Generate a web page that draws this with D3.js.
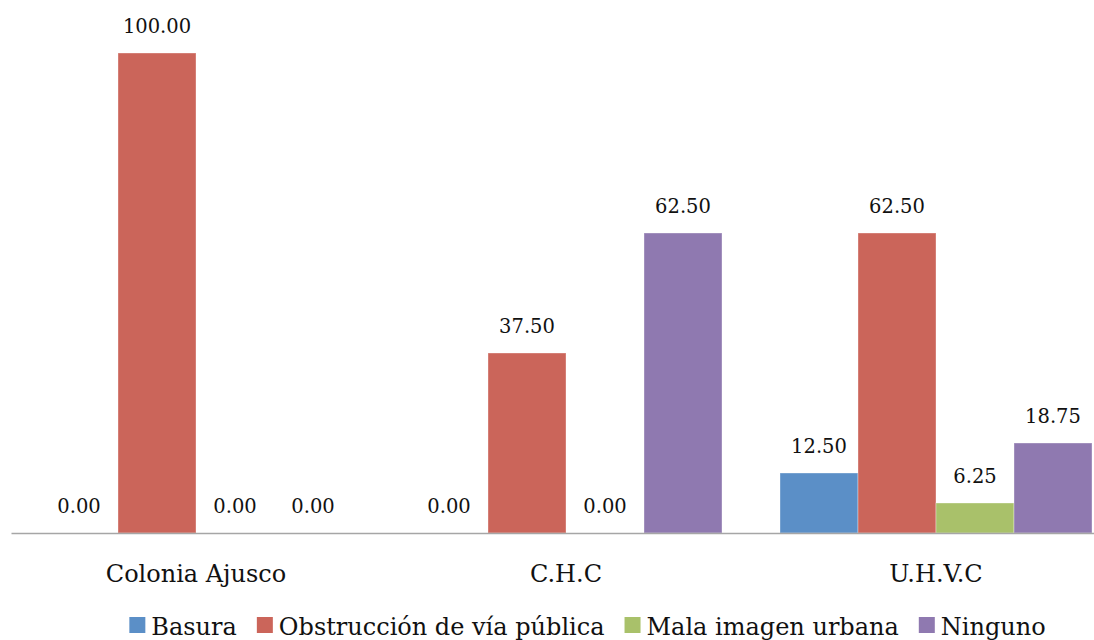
<!DOCTYPE html>
<html>
<head>
<meta charset="utf-8">
<script src="https://cdn.jsdelivr.net/npm/d3@7"></script>
<style>
  html, body { margin: 0; padding: 0; background: #fff; }
  svg { display: block; }
  text { font-family: "DejaVu Serif", serif; fill: #111; }
</style>
</head>
<body>
<svg id="chart" width="1094" height="640"></svg>
<script>
// Problem share (%) by neighbourhood
const categories = ["Colonia Ajusco", "C.H.C", "U.H.V.C"];
const series = ["Basura", "Obstrucción de vía pública", "Mala imagen urbana", "Ninguno"];
const basura      = [0.00, 0.00, 12.50];
const obstruccion = [100.00, 37.50, 62.50];
const malaImagen  = [0.00, 0.00, 6.25];
const ninguno     = [0.00, 62.50, 18.75];
const seriesValues = [basura, obstruccion, malaImagen, ninguno];
const colors = ["#5b8fc7", "#cb655a", "#a9c16a", "#8f79b0"];

const svg = d3.select("#chart");

const x0 = d3.scaleBand().domain(categories).range([11, 1121]).padding(0);
const x1 = d3.scaleBand().domain(series).range([29, x0.bandwidth() - 29]).padding(0);
const y = d3.scaleLinear().domain([0, 100]).range([533, 53]);

const rows = categories.map((c, i) => ({
  cat: c,
  vals: series.map((s, j) => ({ s, j, v: seriesValues[j][i] }))
}));

const groups = svg.append("g").selectAll("g")
  .data(rows).join("g")
  .attr("transform", d => `translate(${x0(d.cat)},0)`);

groups.selectAll("rect")
  .data(d => d.vals.filter(e => e.v > 0))
  .join("rect")
  .attr("x", e => x1(e.s))
  .attr("y", e => y(e.v))
  .attr("width", x1.bandwidth())
  .attr("height", e => y(0) - y(e.v))
  .attr("fill", e => colors[e.j])
  .attr("stroke", "#ffffff")
  .attr("stroke-opacity", 0.35)
  .attr("stroke-width", 1);

groups.selectAll("text.val")
  .data(d => d.vals)
  .join("text")
  .attr("class", "val")
  .attr("x", e => x1(e.s) + x1.bandwidth() / 2)
  .attr("y", e => y(e.v) - 20)
  .attr("text-anchor", "middle")
  .style("font-size", "19.5px")
  .text(e => e.v.toFixed(2));

// baseline axis
const xAxis = d3.axisBottom(x0).tickSize(0).tickPadding(0);
const ax = svg.append("g").attr("transform", `translate(0,${y(0)})`).call(xAxis);
ax.select(".domain").attr("stroke", "#a6a6a6").attr("stroke-width", 1.5);
ax.selectAll(".tick text")
  .attr("y", 49)
  .attr("dy", 0)
  .style("font-family", "'DejaVu Serif', serif")
  .style("font-size", "24px")
  .attr("fill", "#111");

// legend
const legend = svg.append("g");
const items = legend.selectAll("g").data(series).join("g");
items.append("rect")
  .attr("width", 16).attr("height", 16)
  .attr("y", 617)
  .attr("fill", (d, i) => colors[i]);
items.append("text")
  .attr("x", 22)
  .attr("y", 635)
  .style("font-size", "24px")
  .text(d => d);
let cx = 0;
const offsets = [];
items.each(function () {
  offsets.push(cx);
  const w = d3.select(this).select("text").node().getComputedTextLength();
  cx += 22 + w + 20;
});
const total = cx - 20;
const start = 587.5 - total / 2;
items.attr("transform", (d, i) => `translate(${start + offsets[i]},0)`);
</script>
</body>
</html>
